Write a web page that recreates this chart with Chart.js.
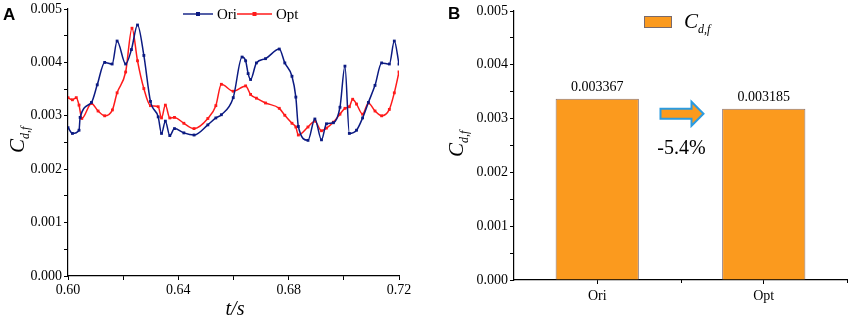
<!DOCTYPE html>
<html>
<head>
<meta charset="utf-8">
<script src="https://cdn.jsdelivr.net/npm/chart.js@4.4.0/dist/chart.umd.min.js"></script>
<style>
body { margin: 0; background: #fff; }
#wrapA { position: absolute; left: 0; top: 0; width: 420px; height: 322px; }
#wrapB { position: absolute; left: 420px; top: 0; width: 431px; height: 322px; }
</style>
</head>
<body>
<div id="wrapA"><canvas id="chartA" width="420" height="322"></canvas></div>
<div id="wrapB"><canvas id="chartB" width="431" height="322"></canvas></div>
<script>
// panel A - time history of Cd,f
var tOri = [0.6000, 0.6016, 0.6040, 0.6044, 0.6085, 0.6106, 0.6133, 0.6160, 0.6178, 0.6209,
    0.6230, 0.6252, 0.6275, 0.6299, 0.6327, 0.6339, 0.6353, 0.6369, 0.6386, 0.6420,
    0.6457, 0.6507, 0.6536, 0.6556, 0.6599, 0.6631, 0.6644, 0.6653, 0.6662, 0.6683,
    0.6716, 0.6766, 0.6786, 0.6812, 0.6826, 0.6835, 0.6870, 0.6895, 0.6919, 0.6937,
    0.6962, 0.6986, 0.7004, 0.7020, 0.7046, 0.7068, 0.7089, 0.7113, 0.7137, 0.7165,
    0.7183, 0.7200];
var cdOri = [0.00278, 0.00267, 0.00273, 0.00297, 0.00325, 0.00358, 0.00400, 0.00397, 0.00440, 0.00397,
    0.00424, 0.00470, 0.00413, 0.00327, 0.00298, 0.00267, 0.00290, 0.00263, 0.00276, 0.00268,
    0.00264, 0.00283, 0.00296, 0.00302, 0.00334, 0.00410, 0.00403, 0.00379, 0.00368, 0.00399,
    0.00407, 0.00425, 0.00399, 0.00374, 0.00335, 0.00280, 0.00254, 0.00294, 0.00255, 0.00285,
    0.00287, 0.00316, 0.00393, 0.00267, 0.00273, 0.00296, 0.00325, 0.00357, 0.00399, 0.00397,
    0.00440, 0.00397];
var tOpt = [0.6000, 0.6016, 0.6030, 0.6040, 0.6050, 0.6085, 0.6109, 0.6133, 0.6161, 0.6178,
    0.6209, 0.6232, 0.6252, 0.6275, 0.6299, 0.6327, 0.6339, 0.6353, 0.6369, 0.6386,
    0.6420, 0.6457, 0.6507, 0.6536, 0.6556, 0.6599, 0.6644, 0.6662, 0.6683, 0.6716,
    0.6766, 0.6786, 0.6812, 0.6826, 0.6835, 0.6870, 0.6895, 0.6919, 0.6937, 0.6962,
    0.6986, 0.7004, 0.7020, 0.7032, 0.7046, 0.7068, 0.7089, 0.7113, 0.7137, 0.7165,
    0.7183, 0.7200];
var cdOpt = [0.00334, 0.00330, 0.00334, 0.00320, 0.00295, 0.00323, 0.00309, 0.00300, 0.00311, 0.00343,
    0.00382, 0.00464, 0.00403, 0.00351, 0.00319, 0.00317, 0.00296, 0.00320, 0.00296, 0.00297,
    0.00286, 0.00276, 0.00295, 0.00319, 0.00359, 0.00346, 0.00356, 0.00340, 0.00333, 0.00324,
    0.00314, 0.00301, 0.00286, 0.00279, 0.00264, 0.00279, 0.00290, 0.00272, 0.00277, 0.00288,
    0.00303, 0.00314, 0.00317, 0.00331, 0.00322, 0.00303, 0.00324, 0.00309, 0.00300, 0.00312,
    0.00343, 0.00382];

// panel B - mean values
var cases = ["Ori", "Opt"];
var cdMean = [0.003367, 0.003185];

var navy = "#0b1a82";
var red = "#ff1a1a";
var orange = "#fb9a1e";
var serif = '"Liberation Serif", "Times New Roman", serif';

Chart.defaults.font.family = serif;
Chart.defaults.color = "#000";

function toPoints(ts, vs) {
    return ts.map(function(t, i) { return { x: t, y: vs[i] }; });
}

// italic C with d,f subscript
function drawCdf(c, x, y, size, angle) {
    c.save();
    c.translate(x, y);
    c.rotate(angle);
    c.fillStyle = "#000";
    c.textAlign = "left";
    c.textBaseline = "alphabetic";
    c.font = "italic " + size + "px " + serif;
    c.fillText("C", 0, 0);
    var w = c.measureText("C").width;
    c.font = "italic " + Math.round(size * 0.55) + "px " + serif;
    c.fillText("d,f", w, size * 0.22);
    c.restore();
}

function axisOpts() {
    return {
        grid: { display: true, drawOnChartArea: false, drawTicks: true, tickLength: 4, tickColor: "#000", tickWidth: 1 },
        border: { display: true, color: "#000", width: 1.2 }
    };
}

var tickFont = { family: serif, size: 14, lineHeight: 1 };

var yTicks = {
    stepSize: 0.0005,
    autoSkip: false,
    padding: 2,
    font: tickFont,
    callback: function(v) { return Math.round(v * 10000) % 10 === 0 ? v.toFixed(3) : ""; }
};

const panelAPlugin = {
    id: "panelA",
    afterDraw(chart) {
        const c = chart.ctx;
        c.save();
        c.fillStyle = "#000";
        c.font = 'bold 17px "Liberation Sans", Arial, sans-serif';
        c.fillText("A", 3, 20);
        drawCdf(c, 24, 153, 21, -Math.PI / 2);
        c.font = "italic 20px " + serif;
        c.textAlign = "center";
        c.fillText("t/s", 235, 315);
        // legend
        var items = [[183, 213, navy, "Ori"], [237, 272, red, "Opt"]];
        items.forEach(function(it) {
            c.strokeStyle = it[2];
            c.lineWidth = 1.4;
            c.beginPath();
            c.moveTo(it[0], 14);
            c.lineTo(it[1], 14);
            c.stroke();
            c.fillStyle = it[2];
            c.fillRect((it[0] + it[1]) / 2 - 2, 12, 4, 4);
            c.fillStyle = "#000";
            c.textAlign = "left";
            c.font = "15px " + serif;
            c.fillText(it[3], it[1] + 4, 19);
        });
        c.restore();
    }
};

var xA = axisOpts();
xA.type = "linear";
xA.min = 0.6;
xA.max = 0.72;
xA.ticks = {
    stepSize: 0.02,
    autoSkip: false,
    maxRotation: 0,
    padding: 3,
    font: tickFont,
    callback: function(v) { return Math.round(v * 100) % 4 === 0 ? v.toFixed(2) : ""; }
};
xA.afterFit = function(s) { s.height = 46; };

var yA = axisOpts();
yA.min = 0;
yA.max = 0.005;
yA.ticks = yTicks;
yA.afterFit = function(s) { s.width = 68; };

function lineSet(label, ts, vs, color) {
    return {
        label: label,
        data: toPoints(ts, vs),
        borderColor: color,
        backgroundColor: color,
        borderWidth: 1.5,
        pointStyle: "rect",
        pointRadius: 2,
        pointBorderWidth: 0,
        cubicInterpolationMode: "monotone"
    };
}

new Chart(document.getElementById("chartA"), {
    type: "line",
    data: {
        datasets: [lineSet("Ori", tOri, cdOri, navy), lineSet("Opt", tOpt, cdOpt, red)]
    },
    options: {
        responsive: false,
        animation: false,
        layout: { padding: { top: 7, right: 21, left: 0, bottom: 0 } },
        plugins: { legend: { display: false }, tooltip: { enabled: false } },
        scales: { x: xA, y: yA }
    },
    plugins: [panelAPlugin]
});

const panelBPlugin = {
    id: "panelB",
    afterDraw(chart) {
        const c = chart.ctx;
        const xs = chart.scales.x;
        const ys = chart.scales.y;
        const area = chart.chartArea;
        const bars = chart.getDatasetMeta(0).data;
        c.save();
        // extra x ticks between categories and at the end
        var mid = (xs.getPixelForValue(0) + xs.getPixelForValue(1)) / 2;
        c.strokeStyle = "#000";
        c.lineWidth = 1;
        [mid, area.right].forEach(function(px) {
            c.beginPath();
            c.moveTo(Math.round(px) + 0.5, area.bottom);
            c.lineTo(Math.round(px) + 0.5, area.bottom + 3);
            c.stroke();
        });
        // value labels
        c.fillStyle = "#000";
        c.font = "14px " + serif;
        c.textAlign = "center";
        bars.forEach(function(b, i) {
            c.fillText(cdMean[i].toFixed(6), b.x, b.y - 8);
        });
        // arrow
        var yc = ys.getPixelForValue(0.00309);
        var x0 = mid - 20, x1 = mid + 11, x2 = mid + 23;
        c.beginPath();
        c.moveTo(x0, yc - 5);
        c.lineTo(x1, yc - 5);
        c.lineTo(x1, yc - 12);
        c.lineTo(x2, yc);
        c.lineTo(x1, yc + 12);
        c.lineTo(x1, yc + 5);
        c.lineTo(x0, yc + 5);
        c.closePath();
        c.fillStyle = orange;
        c.fill();
        c.strokeStyle = "#2b9be0";
        c.lineWidth = 2;
        c.stroke();
        var pct = (cdMean[1] - cdMean[0]) / cdMean[0] * 100;
        c.fillStyle = "#000";
        c.font = "20px " + serif;
        c.fillText(pct.toFixed(1) + "%", mid + 1, yc + 40);
        // letter and titles
        c.textAlign = "left";
        c.font = 'bold 17px "Liberation Sans", Arial, sans-serif';
        c.fillText("B", 28, 19);
        drawCdf(c, 43, 157, 21, -Math.PI / 2);
        // legend
        c.fillStyle = orange;
        c.fillRect(224.5, 16.5, 27, 11);
        c.strokeStyle = "#7a6a6a";
        c.lineWidth = 1;
        c.strokeRect(224.5, 16.5, 27, 11);
        drawCdf(c, 264, 28, 21, 0);
        c.restore();
    }
};

var xB = axisOpts();
xB.grid.offset = false;
xB.ticks = { padding: 5, font: tickFont };
xB.afterFit = function(s) { s.height = 42; };

var yB = axisOpts();
yB.min = 0;
yB.max = 0.005;
yB.ticks = yTicks;
yB.afterFit = function(s) { s.width = 94; };

new Chart(document.getElementById("chartB"), {
    type: "bar",
    data: {
        labels: cases,
        datasets: [{
            label: "Cd,f",
            data: cdMean,
            backgroundColor: orange,
            borderColor: "#8a7474",
            borderWidth: 1,
            barPercentage: 0.5,
            categoryPercentage: 1.0
        }]
    },
    options: {
        responsive: false,
        animation: false,
        layout: { padding: { top: 11, right: 4, left: 0, bottom: 0 } },
        plugins: { legend: { display: false }, tooltip: { enabled: false } },
        scales: { x: xB, y: yB }
    },
    plugins: [panelBPlugin]
});
</script>
</body>
</html>
